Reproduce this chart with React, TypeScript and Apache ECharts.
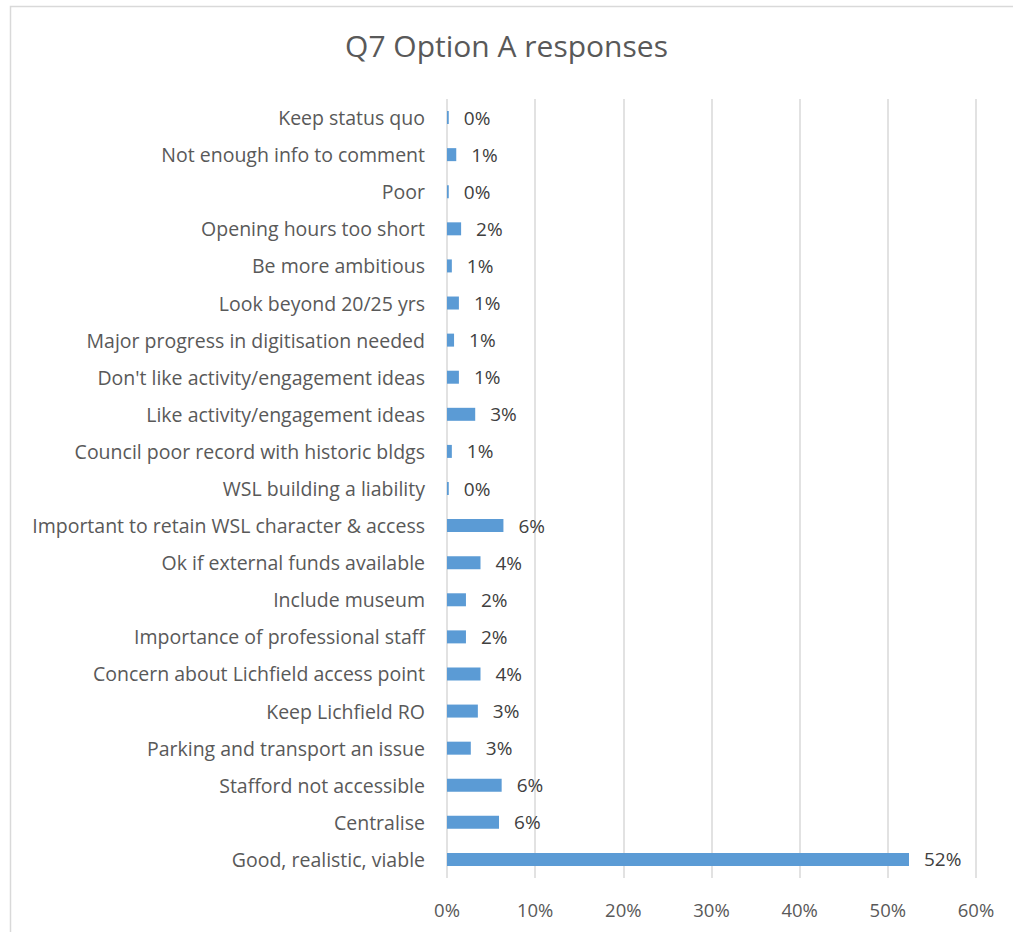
import React, { useEffect, useRef } from "react";
import * as echarts from "echarts";

const categories = [
  "Keep status quo",
  "Not enough info to comment",
  "Poor",
  "Opening hours too short",
  "Be more ambitious",
  "Look beyond 20/25 yrs",
  "Major progress in digitisation needed",
  "Don't like activity/engagement ideas",
  "Like activity/engagement ideas",
  "Council poor record with historic bldgs",
  "WSL building a liability",
  "Important to retain WSL character & access",
  "Ok if external funds available",
  "Include museum",
  "Importance of professional staff",
  "Concern about Lichfield access point",
  "Keep Lichfield RO",
  "Parking and transport an issue",
  "Stafford not accessible",
  "Centralise",
  "Good, realistic, viable",
];

const values = [
  0.2, 1.05, 0.2, 1.6, 0.55, 1.35, 0.8, 1.35, 3.2, 0.55, 0.2, 6.4, 3.8, 2.15, 2.15, 3.8, 3.5, 2.7, 6.2,
  5.9, 52.4,
];

const labels = [
  "0%", "1%", "0%", "2%", "1%", "1%", "1%", "1%", "3%", "1%", "0%", "6%", "4%", "2%", "2%", "4%", "3%",
  "3%", "6%", "6%", "52%",
];

const xTicks = [0, 10, 20, 30, 40, 50, 60];

const FONT = "Open Sans";

export default function App() {
  const ref = useRef<HTMLDivElement>(null);
  useEffect(() => {
    if (!ref.current) return;
    const chart = echarts.init(ref.current, undefined, { renderer: "svg" });
    chart.setOption({
      animation: false,
      backgroundColor: "#ffffff",
      textStyle: { fontFamily: FONT },
      title: {
        text: "Q7 Option A responses",
        left: "center",
        top: 25,
        textStyle: { fontFamily: FONT, fontSize: 30, fontWeight: "normal", color: "#595959" },
      },
      graphic: [
        {
          type: "rect",
          shape: { x: 10.5, y: 6.5, width: 1100, height: 1100 },
          style: { fill: "none", stroke: "#d9d9d9", lineWidth: 1.5 },
          silent: true,
        },
      ],
      grid: { left: 447, right: 37, top: 99, bottom: 54, containLabel: false },
      xAxis: {
        type: "value",
        min: xTicks[0],
        max: xTicks[xTicks.length - 1],
        interval: 10,
        axisLine: { show: false },
        axisTick: { show: false },
        splitLine: { show: true, lineStyle: { color: "#d9d9d9", width: 1.5 } },
        axisLabel: {
          formatter: (v: number) => v + "%",
          color: "#595959",
          fontSize: 18.5,
          fontFamily: FONT,
          margin: 22,
        },
      },
      yAxis: {
        type: "category",
        data: categories,
        inverse: true,
        axisLine: { show: false },
        axisTick: { show: false },
        axisLabel: { color: "#595959", fontSize: 19.5, fontFamily: FONT, margin: 22 },
      },
      series: [
        {
          type: "bar",
          data: values,
          barWidth: 13,
          itemStyle: { color: "#5b9bd5" },
          label: {
            show: true,
            position: "right",
            distance: 15,
            color: "#404040",
            fontSize: 19,
            fontFamily: FONT,
            formatter: (p: any) => labels[p.dataIndex],
          },
        },
      ],
    });
    return () => chart.dispose();
  }, []);
  return (
    <div
      ref={ref}
      style={{ position: "absolute", left: 0, top: 0, width: 1013, height: 932 }}
    />
  );
}
